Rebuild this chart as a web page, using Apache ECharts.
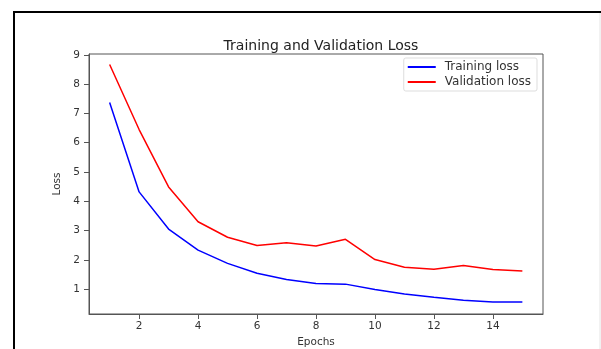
<!DOCTYPE html>
<html>
<head>
<meta charset="utf-8">
<script src="https://cdn.jsdelivr.net/npm/echarts@6/dist/echarts.min.js"></script>
<style>
  html, body { margin: 0; padding: 0; background: #fff; }
  #chart { width: 601px; height: 349px; }
</style>
</head>
<body>
<div id="chart"></div>
<script>
const epochs = [1, 2, 3, 4, 5, 6, 7, 8, 9, 10, 11, 12, 13, 14, 15];
const trainingLoss = [7.37, 4.32, 3.05, 2.33, 1.88, 1.54, 1.33, 1.19, 1.17, 0.99, 0.83, 0.72, 0.62, 0.56, 0.56];
const validationLoss = [8.67, 6.45, 4.49, 3.30, 2.77, 2.49, 2.58, 2.47, 2.70, 2.01, 1.75, 1.68, 1.81, 1.67, 1.62];
const xTicks = [2, 4, 6, 8, 10, 12, 14];
const yTicks = [1, 2, 3, 4, 5, 6, 7, 8, 9];

const chart = echarts.init(document.getElementById('chart'));
const font = 'DejaVu Sans';

const option = {
  animation: false,
  backgroundColor: '#fff',
  title: {
    text: 'Training and Validation Loss',
    left: 316,
    top: 34,
    textAlign: 'center',
    textStyle: { fontFamily: font, fontSize: 14, fontWeight: 'normal', color: '#222' }
  },
  legend: {
    right: 64,
    top: 58,
    orient: 'vertical',
    itemWidth: 28,
    itemHeight: 2,
    itemGap: 3,
    padding: [3, 6, 3, 4],
    borderColor: '#ddd',
    borderWidth: 1,
    borderRadius: 2,
    icon: 'rect',
    textStyle: { fontFamily: font, fontSize: 12, color: '#333', padding: [0, 0, 0, 4] },
    data: ['Training loss', 'Validation loss']
  },
  grid: {
    left: 89, top: 54, right: 58, bottom: 35,
    outerBoundsMode: 'none',
    containLabel: false,
    show: true, borderColor: '#555', borderWidth: 1
  },
  xAxis: {
    type: 'value',
    min: 0.3,
    max: 15.7,
    name: 'Epochs',
    nameLocation: 'middle',
    nameGap: 20,
    nameTextStyle: { fontFamily: font, fontSize: 10.5, color: '#333' },
    axisLine: { show: true, lineStyle: { color: '#555' } },
    axisTick: { show: true, length: 5, customValues: xTicks, lineStyle: { color: '#555' } },
    axisLabel: { customValues: xTicks, fontFamily: font, fontSize: 10.5, color: '#333', margin: 7 },
    splitLine: { show: false }
  },
  yAxis: {
    type: 'value',
    min: 0.15,
    max: 9.03,
    name: 'Loss',
    nameLocation: 'middle',
    nameGap: 24,
    nameTextStyle: { fontFamily: font, fontSize: 10.5, color: '#333' },
    axisLine: { show: true, lineStyle: { color: '#555' } },
    axisTick: { show: true, length: 5, customValues: yTicks, lineStyle: { color: '#555' } },
    axisLabel: { customValues: yTicks, fontFamily: font, fontSize: 10.5, color: '#333', margin: 9 },
    splitLine: { show: false }
  },
  series: [
    {
      name: 'Training loss',
      type: 'line',
      data: epochs.map((e, i) => [e, trainingLoss[i]]),
      showSymbol: false,
      symbol: 'none',
      color: '#0000ff',
      lineStyle: { width: 1.5, color: '#0000ff' }
    },
    {
      name: 'Validation loss',
      type: 'line',
      data: epochs.map((e, i) => [e, validationLoss[i]]),
      showSymbol: false,
      symbol: 'none',
      color: '#ff0000',
      lineStyle: { width: 1.5, color: '#ff0000' }
    }
  ],
  graphic: [
    // screenshot frame round the figure
    { type: 'line', shape: { x1: 13, y1: 12, x2: 601, y2: 12 }, style: { stroke: '#000', lineWidth: 2 } },
    { type: 'line', shape: { x1: 14, y1: 11, x2: 14, y2: 349 }, style: { stroke: '#000', lineWidth: 2 } },
    { type: 'line', shape: { x1: 600, y1: 13, x2: 600, y2: 349 }, style: { stroke: '#e4e4e4', lineWidth: 1 } }
  ]
};

chart.setOption(option);
</script>
</body>
</html>
